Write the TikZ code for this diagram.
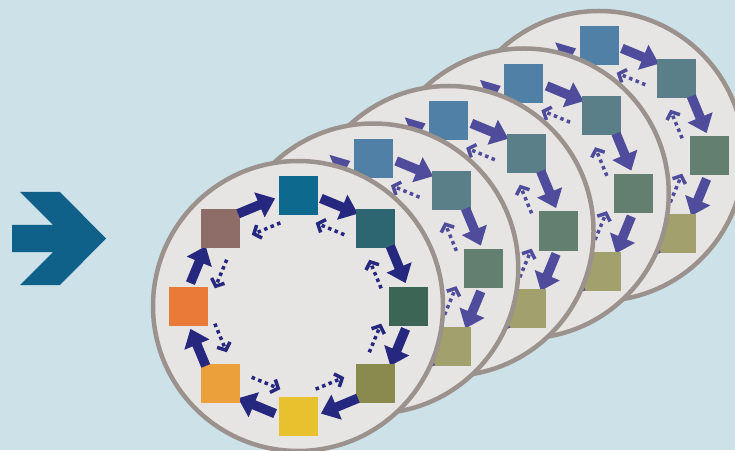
\documentclass[tikz,border=0pt]{standalone}
\usepackage{tikz}
\usetikzlibrary{arrows.meta,calc}

\definecolor{bgblue}{RGB}{205,225,233}
\definecolor{discfill}{RGB}{231,229,227}
\definecolor{discrim}{RGB}{155,146,141}
\definecolor{chevron}{RGB}{16,97,138}
\definecolor{arrfr}{RGB}{38,40,128}
\definecolor{arrbk}{RGB}{80,76,156}
% front disc, clockwise from the top
\definecolor{fr0}{RGB}{13,106,142}
\definecolor{fr1}{RGB}{45,101,112}
\definecolor{fr2}{RGB}{61,101,86}
\definecolor{fr3}{RGB}{138,138,78}
\definecolor{fr4}{RGB}{232,194,46}
\definecolor{fr5}{RGB}{235,160,60}
\definecolor{fr6}{RGB}{234,122,56}
\definecolor{fr7}{RGB}{142,108,104}
% discs behind, faded
\definecolor{bk0}{RGB}{80,128,166}
\definecolor{bk1}{RGB}{90,127,136}
\definecolor{bk2}{RGB}{98,127,112}
\definecolor{bk3}{RGB}{162,160,108}
\definecolor{bk4}{RGB}{224,204,128}
\definecolor{bk5}{RGB}{226,180,120}
\definecolor{bk6}{RGB}{224,150,112}
\definecolor{bk7}{RGB}{150,128,126}

\tikzset{
  disc/.style={circle, fill=discfill, draw=discrim, line width=4.5pt,
    minimum size=290pt, inner sep=0pt},
  tile/.style={minimum size=39pt, inner sep=0pt},
  push/.style={line width=9.5pt, -{Triangle[width=26pt,length=17pt]}},
  pull/.style={line width=3.5pt, dash pattern=on 3.5pt off 3.5pt,
    -{Straight Barb[length=6pt,width=14pt,line width=3.5pt]}},
}

\begin{document}
\begin{tikzpicture}[x=1pt,y=1pt]
  \useasboundingbox[fill=bgblue] (0,0) rectangle (735,450);
  % chevron on the left
  \fill[chevron] (12,225) -- (53,225) -- (20,258) -- (60,258) -- (106,211.5)
    -- (60,165) -- (20,165) -- (53,198) -- (12,198) -- cycle;
  % discs, back to front
  \foreach \d/\pre/\arr in {4/bk/arrbk,3/bk/arrbk,2/bk/arrbk,1/bk/arrbk,0/fr/arrfr}{
    \node[disc] (disc\d) at ({298+75.25*\d},{144+37.5*\d}) {};
    \foreach \k in {0,...,7}{
      \pgfmathsetmacro\a{90-45*\k}
      \node[tile, fill=\pre\k] (tile\d\k) at ($(disc\d)+(\a:110)$) {};
      \coordinate (ps\d\k) at ($(disc\d)+({\a-12}:110)$);
      \coordinate (pe\d\k) at ($(disc\d)+({\a-33}:110)$);
      \coordinate (rs\d\k) at ($(disc\d)+({\a-33}:85)$);
      \coordinate (re\d\k) at ($(disc\d)+({\a-12}:85)$);
      \draw[push, \arr] (ps\d\k) -- (pe\d\k);
      \draw[pull, \arr] (rs\d\k) -- (re\d\k);
    }
  }
\end{tikzpicture}
\end{document}
